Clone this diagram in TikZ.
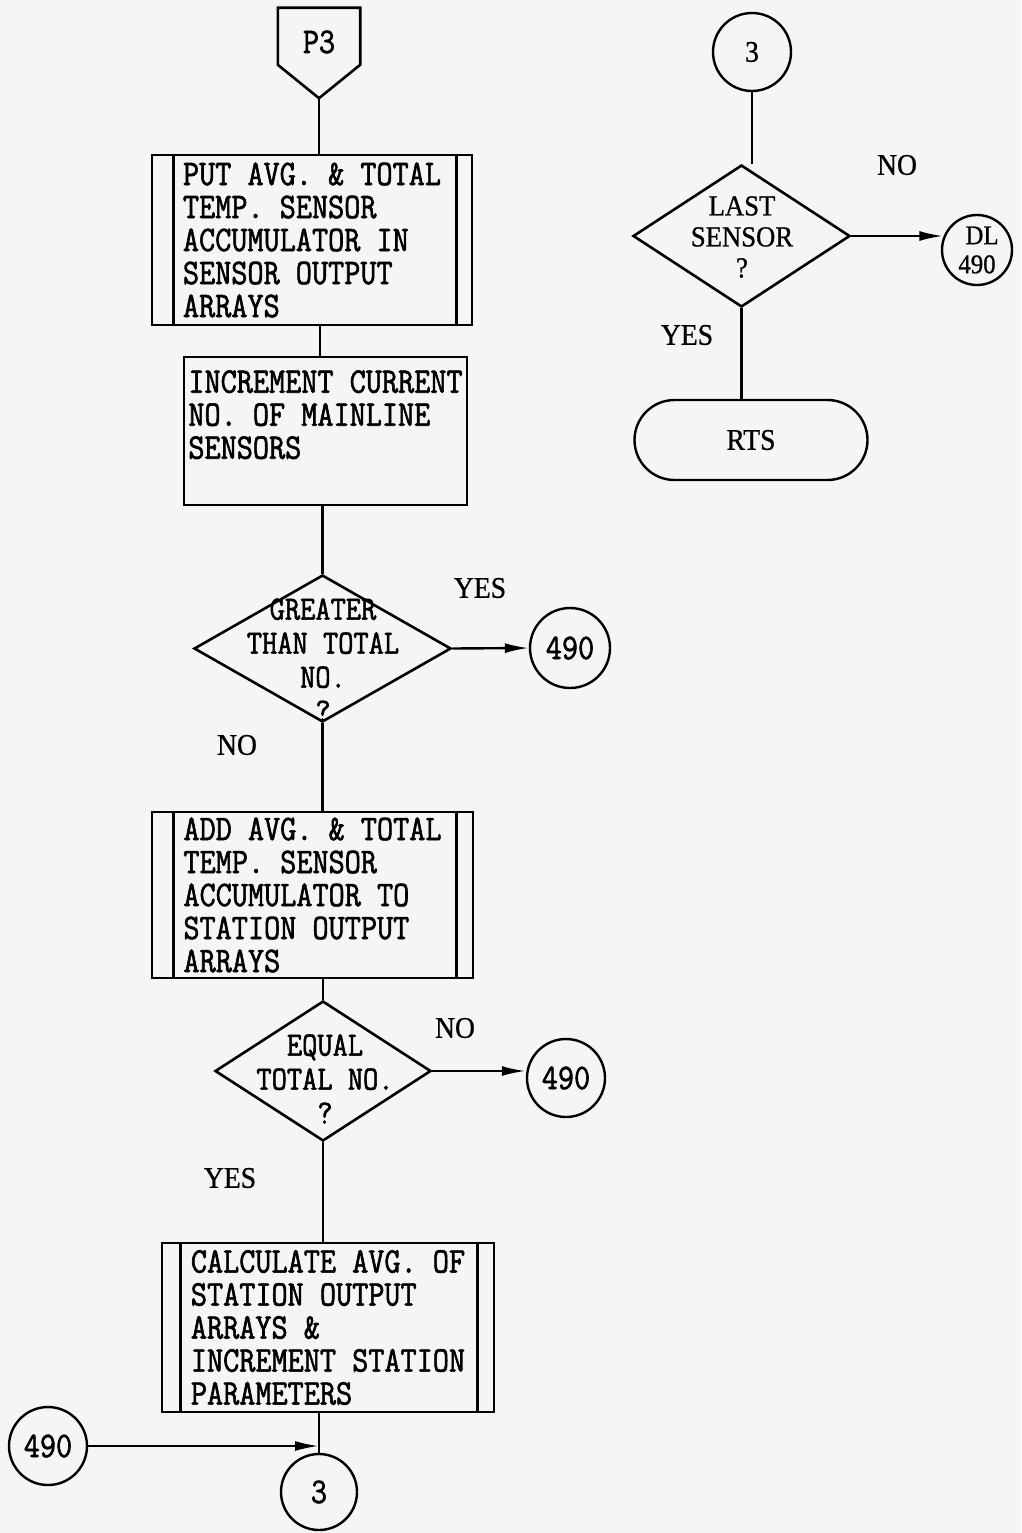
\documentclass[tikz,border=0pt]{standalone}
\usepackage{fontspec}
\setmainfont{Latin Modern Mono}[FakeStretch=0.87, FakeBold=1.6]
\newfontfamily\serifx{Liberation Serif}[FakeStretch=0.92, FakeBold=0.8]
\usetikzlibrary{shapes.geometric,shapes.misc,arrows.meta,calc}
\begin{document}
\begin{tikzpicture}[x=1pt,y=-1pt,
  every node/.style={font=\fontsize{36}{33}\selectfont, inner sep=0pt},
  box/.style={draw, line width=2.8pt, rectangle, align=left},
  dec/.style={draw, diamond, line width=2.6pt},
  conn/.style={draw, circle, line width=2.4pt},
  term/.style={draw, rounded rectangle, line width=2.4pt},
  dtext/.style={align=center, font=\fontsize{34}{34}\selectfont},
  rtext/.style={align=center, font=\serifx\fontsize{29}{31}\selectfont},
  lbl/.style={font=\serifx\fontsize{30}{31}\selectfont},
  flow/.style={line width=2.4pt},
  arr/.style={flow, -{Latex[length=24pt,width=10pt]}},
  inner/.style={line width=2.4pt}]
\useasboundingbox[fill=black!4] (0,0) rectangle (1021,1533);

% ---- left column ----
\node[minimum width=82pt, minimum height=90pt] (p3) at (319,53) {};
\draw[line width=2.6pt, line join=miter] (p3.north west) -- (p3.north east) -- ($(p3.north east)+(0,57)$) -- (p3.south) -- ($(p3.north west)+(0,57)$) -- cycle;
\node (p3t) at (319,42) {P3};

\node[box, minimum width=320pt, minimum height=170pt] (b1) at (312,240)
  {PUT AVG. \& TOTAL\\TEMP. SENSOR\\ACCUMULATOR IN\\SENSOR OUTPUT\\ARRAYS};
\draw[inner] ([xshift=23pt]b1.north west) -- ([xshift=23pt]b1.south west);
\draw[inner] ([xshift=-17pt]b1.north east) -- ([xshift=-17pt]b1.south east);

\node[box, minimum width=283pt, minimum height=148pt] (b2) at (325.5,431)
  {INCREMENT CURRENT\\NO. OF MAINLINE\\SENSORS\\\mbox{}};

\node[dec, minimum width=257pt, minimum height=147pt] (d1) at (322.5,648.5) {};
\node[dtext] (d1t) at (323,660) {GREATER\\THAN TOTAL\\NO.\\?};
\node[conn, minimum size=80pt] (c490a) at (570,648) {490};
\node[lbl] (y1) at (480,588) {YES};
\node[lbl] (n1) at (237,745) {NO};

\node[box, minimum width=321pt, minimum height=166pt] (b3) at (312.5,895)
  {ADD AVG. \& TOTAL\\TEMP. SENSOR\\ACCUMULATOR TO\\STATION OUTPUT\\ARRAYS};
\draw[inner] ([xshift=23pt]b3.north west) -- ([xshift=23pt]b3.south west);
\draw[inner] ([xshift=-18pt]b3.north east) -- ([xshift=-18pt]b3.south east);

\node[dec, minimum width=216pt, minimum height=140pt] (d2) at (323,1071) {};
\node[dtext] (d2t) at (325,1079) {EQUAL\\TOTAL NO.\\?};
\node[conn, minimum size=78pt] (c490b) at (566,1078) {490};
\node[lbl] (n2) at (455,1028) {NO};
\node[lbl] (y2) at (230,1178) {YES};

\node[box, minimum width=332pt, minimum height=169pt] (b4) at (328,1327.5)
  {CALCULATE AVG. OF\\STATION OUTPUT\\ARRAYS \&\\INCREMENT STATION\\PARAMETERS};
\draw[inner] ([xshift=20pt]b4.north west) -- ([xshift=20pt]b4.south west);
\draw[inner] ([xshift=-18pt]b4.north east) -- ([xshift=-18pt]b4.south east);

\node[conn, minimum size=78pt] (c490c) at (48,1446) {490};
\node[conn, minimum size=76pt] (c3b) at (319,1492) {3};
\coordinate (j) at (319,1446);

% ---- right column ----
\node[conn, minimum size=78pt, font=\serifx\fontsize{30}{31}\selectfont] (c3a) at (752,52) {3};
\node[dec, minimum width=217pt, minimum height=142pt] (d3) at (741.5,236) {};
\node[rtext] (d3t) at (742,237) {LAST\\SENSOR\\?};
\node[conn, minimum size=70pt, align=center, font=\serifx\fontsize{27}{29}\selectfont] (dl) at (977,250) {\hspace*{10pt}DL\\490};
\node[lbl] (n3) at (897,165) {NO};
\node[lbl] (y3) at (687,335) {YES};
\node[term, minimum width=233pt, minimum height=80pt, font=\serifx\fontsize{30}{31}\selectfont] (rts) at (751,440) {RTS};

% ---- connectors ----
\draw[flow] (p3.south) -- (p3.south |- b1.north);
\draw[flow] (320,0 |- b1.south) -- (320,0 |- b2.north);
\draw[flow] (d1.north |- b2.south) -- (d1.north);
\draw[arr] (d1.east) -- (c490a.west);
\draw[flow] (d1.south) -- (d1.south |- b3.north);
\draw[flow] (d2.north |- b3.south) -- (d2.north);
\draw[arr] (d2.east) -- (d2.east -| c490b.west);
\draw[flow] (d2.south) -- (d2.south |- b4.north);
\draw[flow] (b4.south -| c3b.north) -- (c3b.north);
\draw[arr] (c490c.east) -- (j);

\draw[flow] (c3a.south) -- (c3a.south |- d3.north);
\draw[arr] (d3.east) -- ([xshift=2.5pt]d3.east -| dl.west);
\draw[flow] (d3.south) -- (d3.south |- rts.north);
\end{tikzpicture}
\end{document}
